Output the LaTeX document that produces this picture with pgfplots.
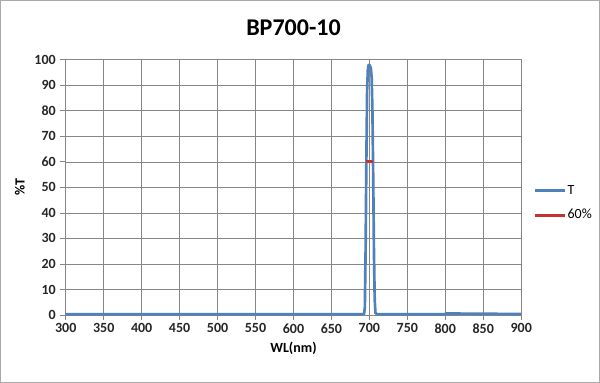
\documentclass[border=0pt]{standalone}
\usepackage{pgfplots}
\pgfplotsset{compat=1.18}
\usepackage{fontspec}
\setmainfont{Carlito}
\definecolor{tblue}{RGB}{79,129,189}
\definecolor{tred}{RGB}{200,50,45}
\definecolor{gridc}{RGB}{134,134,134}
\begin{document}
\begin{tikzpicture}
\draw[draw=gridc!70, line width=0.6pt] (0.5pt,0.5pt) rectangle (449.5pt,286.75pt);
\begin{axis}[
  at={(49.5pt,51pt)}, anchor=south west,
  scale only axis, width=341.25pt, height=191.25pt,
  xmin=300, xmax=900, ymin=0, ymax=100,
  xtick={300,350,...,900}, ytick={0,10,...,100},
  grid=major,
  major grid style={draw=gridc, line width=0.5pt},
  axis line style={draw=gridc, line width=0.6pt},
  tick style={draw=gridc, line width=0.6pt},
  tick align=outside, major tick length=4pt,
  xtick pos=bottom, ytick pos=left,
  /pgf/number format/assume math mode=true,
  /pgf/number format/set thousands separator={},
  ticklabel style={font=\bfseries\fontsize{10.5}{12}\selectfont, text=black!85},
  xticklabel style={yshift=1pt},
  xlabel={\textbf{WL(nm)}}, ylabel={\textbf{\%T}},
  xlabel style={font=\fontsize{10.5}{12}\selectfont, at={(0.5,-0.129)}, anchor=center},
  ylabel style={font=\fontsize{10.5}{12}\selectfont, at={(-0.101,0.5)}, anchor=center},
  title={\textbf{BP700-10}},
  title style={font=\fontsize{18}{20}\selectfont, at={(0.5,1.093)}, anchor=center},
  legend style={at={(1.026,0.439)}, anchor=west, draw=none, fill=none,
    font=\fontsize{10.5}{12}\selectfont, row sep=6pt, inner xsep=0pt,
    nodes={inner xsep=1pt}},
  legend cell align=left,
]
\addplot[draw=tblue, line width=2pt, line join=round,
  legend image code/.code={\draw[draw=tblue, line width=2pt] (0pt,0pt) -- (22.5pt,0pt);}] coordinates {
(300,0.3) (400,0.3) (500,0.3) (600,0.3) (690,0.3) (693,0.4) (694,3) (695,25)
(696,60) (697,88) (698,96.5) (699,98) (700,98) (701,97.5) (702,96.5) (703,93)
(704,80) (705,55) (706,25) (707,6) (708,0.8) (710,0.3) (800,0.3) (801,0.6) (850,0.5) (900,0.4)
};
\addlegendentry{T}
\addplot[draw=tred, line width=2.2pt,
  legend image code/.code={\draw[draw=tred, line width=2.2pt] (0pt,0pt) -- (22.5pt,0pt);}] coordinates {(696,60) (704.5,60)};
\addlegendentry{60\%}
\end{axis}
\end{tikzpicture}
\end{document}
